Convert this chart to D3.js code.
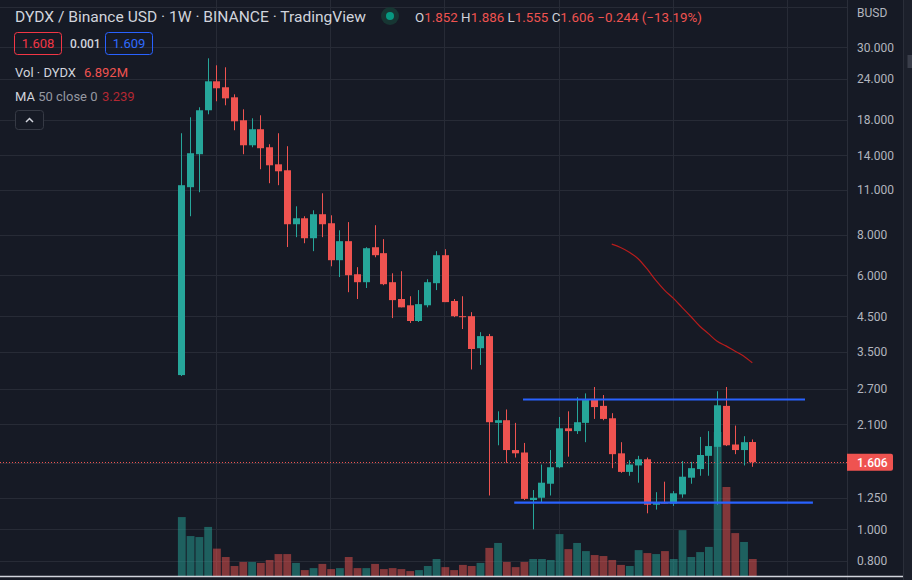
<!DOCTYPE html>
<html>
<head>
<meta charset="utf-8">
<script src="https://cdn.jsdelivr.net/npm/d3@7"></script>
<style>
  html, body { margin: 0; padding: 0; background: #161a25; }
  svg { display: block; }
  text { font-family: Roboto, "Liberation Sans", "DejaVu Sans", sans-serif; }
</style>
</head>
<body>
<svg id="chart" width="912" height="580"></svg>
<script>
// ---------- DATA (weekly DYDX/BUSD) ----------
const opens  = [2.97,11.18,14.11,19.24,23.60,22.63,21.08,17.93,15.03,16.83,14.82,13.14,12.60,8.61,8.98,7.80,9.24,8.67,6.68,7.64,6.05,5.72,7.32,7.02,5.72,5.08,4.86,4.35,4.86,5.68,6.92,5.01,4.50,4.50,3.59,3.91,2.12,2.16,1.75,1.72,1.23,1.25,1.38,1.55,2.04,2.00,2.12,2.51,2.39,2.19,1.71,1.50,1.57,1.64,1.19,1.21,1.20,1.28,1.44,1.53,1.68,1.79,2.39,1.82,1.75,1.852];
const highs  = [16.36,18.31,19.65,27.76,26.42,26.05,21.53,19.37,18.18,18.57,15.14,16.36,14.93,9.77,9.11,9.50,10.71,9.17,8.25,8.74,6.36,7.32,8.55,7.75,6.09,6.18,5.18,5.41,5.84,7.12,7.22,5.08,5.18,4.63,4.02,3.97,2.30,2.33,2.12,1.84,1.32,1.58,1.75,2.21,2.30,2.54,2.61,2.73,2.58,2.27,1.85,1.63,1.68,1.66,1.30,1.40,1.31,1.62,1.61,1.92,2.00,2.65,2.73,2.08,1.93,1.886];
const lows   = [2.95,9.11,10.79,18.70,20.50,19.93,16.71,14.11,14.82,12.69,11.50,11.34,7.33,7.86,7.53,7.12,7.86,6.40,5.93,5.33,5.08,5.49,6.82,5.60,4.44,4.79,4.29,4.32,4.79,5.41,4.97,4.47,4.11,3.09,3.19,1.27,1.81,1.60,1.66,1.23,1.00,1.21,1.27,1.54,1.67,1.96,1.85,2.18,2.16,1.54,1.49,1.46,1.39,1.12,1.15,1.20,1.18,1.25,1.38,1.46,1.46,1.19,1.80,1.70,1.57,1.555];
const closes = [11.34,14.21,19.24,23.60,22.47,20.93,17.80,15.03,16.83,14.72,13.05,12.51,8.61,8.98,7.80,9.24,8.61,6.68,7.64,6.01,5.72,7.27,6.92,5.64,5.04,4.79,4.35,4.90,5.72,6.92,4.97,4.50,4.47,3.57,3.91,2.13,2.16,1.75,1.71,1.24,1.25,1.39,1.55,2.04,2.00,2.13,2.49,2.37,2.18,1.70,1.50,1.58,1.64,1.19,1.21,1.20,1.29,1.45,1.54,1.69,1.80,2.40,1.81,1.75,1.85,1.606];
// volume in millions
const volumes = [23.9,16.2,15.8,19.9,11.1,7.7,4.05,5.7,5.7,5.3,6.5,8.9,8.9,5.3,2.4,3.2,4.9,2.8,3.2,7.7,3.2,3.2,4.9,2.8,3.2,2.8,2.0,2.4,4.05,6.9,3.6,2.4,4.5,4.05,5.3,11.4,13.4,5.7,3.6,5.7,6.9,6.9,6.5,17.0,10.9,13.4,10.1,8.5,8.1,6.5,4.5,4.05,10.5,9.3,8.9,10.1,6.9,18.6,7.7,9.7,11.8,58.4,36.1,17.4,13.8,6.892];
// MA 50 close (starts at bar index 49)
const maStartIndex = 49;
const maValues = [7.48,7.31,7.07,6.75,6.29,5.80,5.41,5.11,4.79,4.49,4.20,3.98,3.77,3.65,3.52,3.40,3.239];
// price axis
const tickLabels = [30,24,18,14,11,8,6,4.5,3.5,2.7,2.1,1.25,1.0,0.8];
const gridPrices = [40,30,24,18,14,11,8,6,4.5,3.5,2.7,2.1,1.6,1.25,1.0,0.8];
const timeGridIndex = [4,17,30,43,56,69];
// drawn horizontal levels: [price, fromIndex, toIndex]
const levelLines = [[2.50, 38.9, 71.0], [1.207, 37.9, 71.9]];
const lastPrice = 1.606;

// ---------- LAYOUT ----------
const W = 912, H = 580;
const plotRight = 847, stripLeft = 903, bottomY = 576;
const UP = "#26a69a", DOWN = "#ef5350";

const svg = d3.select("#chart");
const n = closes.length;
const x = d3.scaleLinear().domain([0, n - 1]).range([181.3, 752.3]);
const y = d3.scaleLog().domain([0.8, 30]).range([561, 47.3]);
const vMax = d3.max(volumes);
const yv = d3.scaleLinear().domain([0, vMax]).range([bottomY, bottomY - 144]);

svg.append("rect").attr("width", W).attr("height", H).attr("fill", "#161a25");

// right narrow strip
svg.append("rect").attr("x", stripLeft).attr("y", 0).attr("width", W - stripLeft).attr("height", H).attr("fill", "#1c202b");
svg.append("line").attr("x1", stripLeft + 0.5).attr("x2", stripLeft + 0.5).attr("y1", 0).attr("y2", H).attr("stroke", "#2a2e39");
svg.append("rect").attr("x", 907.5).attr("y", 55).attr("width", 4.5).attr("height", 13).attr("fill", "#3a3e4a");

svg.append("defs").append("clipPath").attr("id", "plotClip")
  .append("rect").attr("x", 0).attr("y", 0).attr("width", plotRight).attr("height", bottomY);

// grid
const grid = svg.append("g").attr("stroke", "#272b36").attr("stroke-width", 1);
grid.selectAll("line.h").data(gridPrices).join("line").attr("class", "h")
  .attr("x1", 0).attr("x2", plotRight)
  .attr("y1", d => Math.round(y(d)) + 0.5).attr("y2", d => Math.round(y(d)) + 0.5);
grid.selectAll("line.v").data(timeGridIndex).join("line").attr("class", "v")
  .attr("x1", d => Math.floor(x(d)) + 0.5).attr("x2", d => Math.floor(x(d)) + 0.5)
  .attr("y1", 0).attr("y2", bottomY);

const plot = svg.append("g").attr("clip-path", "url(#plotClip)");
const idx = d3.range(n);
const isUp = i => closes[i] >= opens[i];

// volume
plot.append("g").selectAll("rect").data(idx).join("rect")
  .attr("x", i => x(i) - 3.9 + 0.5).attr("width", 7.8)
  .attr("y", i => yv(volumes[i])).attr("height", i => bottomY - yv(volumes[i]))
  .attr("fill", i => isUp(i) ? UP : DOWN).attr("fill-opacity", 0.5);

// last price dotted line
plot.append("line").attr("x1", 0).attr("x2", plotRight)
  .attr("y1", Math.round(y(lastPrice)) + 0.5).attr("y2", Math.round(y(lastPrice)) + 0.5)
  .attr("stroke", DOWN).attr("stroke-width", 1).attr("stroke-dasharray", "1,2");

// candles
const cg = plot.append("g");
cg.selectAll("line").data(idx).join("line")
  .attr("x1", i => Math.round(x(i)) + 0.5).attr("x2", i => Math.round(x(i)) + 0.5)
  .attr("y1", i => y(highs[i])).attr("y2", i => y(lows[i]))
  .attr("stroke", i => isUp(i) ? UP : DOWN).attr("stroke-width", 1);
cg.selectAll("rect").data(idx).join("rect")
  .attr("x", i => Math.round(x(i)) - 3).attr("width", 7)
  .attr("y", i => y(Math.max(opens[i], closes[i])))
  .attr("height", i => Math.max(1, Math.abs(y(opens[i]) - y(closes[i]))))
  .attr("fill", i => isUp(i) ? UP : DOWN);

// MA line
const maPts = maValues.map((v, k) => [maStartIndex + k, v]);
plot.append("path").datum(maPts)
  .attr("d", d3.line().x(d => x(d[0])).y(d => y(d[1])).curve(d3.curveMonotoneX))
  .attr("fill", "none").attr("stroke", "#b71c1c").attr("stroke-width", 1.2);

// level lines
plot.append("g").selectAll("line").data(levelLines).join("line")
  .attr("x1", d => x(d[1])).attr("x2", d => x(d[2]))
  .attr("y1", d => y(d[0])).attr("y2", d => y(d[0]))
  .attr("stroke", "#2962ff").attr("stroke-width", 2.2);

// price axis
svg.append("line").attr("x1", plotRight + 0.5).attr("x2", plotRight + 0.5).attr("y1", 0).attr("y2", H).attr("stroke", "#2a2e39");
const axisG = svg.append("g").attr("transform", `translate(${plotRight},0)`)
  .call(d3.axisRight(y).tickValues(tickLabels).tickFormat(d3.format(".3f")).tickSize(0).tickPadding(10));
axisG.select(".domain").remove();
axisG.selectAll("text").attr("fill", "#b2b5be").attr("font-size", 12).style("font-family", "Roboto, 'Liberation Sans', sans-serif");
svg.append("text").attr("x", 857).attr("y", 17).attr("fill", "#b2b5be").attr("font-size", 12).text("BUSD");

// last price label
const ly = y(lastPrice);
svg.append("path")
  .attr("d", `M${plotRight},${ly - 8.5} H891 a2,2 0 0 1 2,2 V${ly + 6.5} a2,2 0 0 1 -2,2 H${plotRight} Z`)
  .attr("fill", DOWN);
svg.append("text").attr("x", 857).attr("y", ly + 4.3).attr("fill", "#ffffff").attr("font-size", 12).attr("font-weight", 500).text(d3.format(".3f")(lastPrice));

// bottom white separator
svg.append("line").attr("x1", 0).attr("x2", stripLeft).attr("y1", bottomY + 0.5).attr("y2", bottomY + 0.5)
  .attr("stroke", "#d1d4dc").attr("stroke-width", 1.5);

// ---------- HEADER ----------
const hdr = svg.append("g");
hdr.append("text").attr("x", 15).attr("y", 21.5).attr("fill", "#d1d4dc").attr("font-size", 14.5)
  .attr("textLength", 351).attr("lengthAdjust", "spacingAndGlyphs")
  .text("DYDX / Binance USD · 1W · BINANCE · TradingView");
hdr.append("circle").attr("cx", 390).attr("cy", 16).attr("r", 9).attr("fill", "#173633");
hdr.append("circle").attr("cx", 390).attr("cy", 16).attr("r", 4).attr("fill", "#089981");

const last = n - 1;
const ohlc = hdr.append("text").attr("x", 415).attr("y", 21.5).attr("font-size", 12.5)
  .attr("textLength", 287).attr("lengthAdjust", "spacingAndGlyphs");
[["O", opens[last]], ["H", highs[last]], ["L", lows[last]], ["C", closes[last]]].forEach(([k, v], j) => {
  ohlc.append("tspan").attr("fill", "#d1d4dc").text((j ? " " : "") + k);
  ohlc.append("tspan").attr("fill", DOWN).text(d3.format(".3f")(v));
});
ohlc.append("tspan").attr("fill", DOWN).text(" \u22120.244 (\u221213.19%)");

// row 2: bid / spread / ask
hdr.append("rect").attr("x", 14.5).attr("y", 32.5).attr("width", 47).attr("height", 22).attr("rx", 3)
  .attr("fill", "none").attr("stroke", "#f23645");
hdr.append("text").attr("x", 38).attr("y", 48).attr("text-anchor", "middle").attr("fill", "#f23645").attr("font-size", 13).text("1.608");
hdr.append("text").attr("x", 70).attr("y", 48).attr("fill", "#d1d4dc").attr("font-size", 12).attr("font-weight", 500).text("0.001");
hdr.append("rect").attr("x", 105.5).attr("y", 32.5).attr("width", 47).attr("height", 22).attr("rx", 3)
  .attr("fill", "none").attr("stroke", "#2962ff");
hdr.append("text").attr("x", 129).attr("y", 48).attr("text-anchor", "middle").attr("fill", "#2f6bff").attr("font-size", 13).text("1.609");

// row 3: volume legend
hdr.append("text").attr("x", 15).attr("y", 77).attr("font-size", 13).attr("fill", "#d1d4dc").text("Vol · DYDX");
hdr.append("text").attr("x", 84).attr("y", 77).attr("font-size", 13).attr("fill", DOWN).text("6.892M");

// row 4: MA legend
const mt = hdr.append("text").attr("x", 15).attr("y", 101).attr("font-size", 13);
mt.append("tspan").attr("fill", "#d1d4dc").text("MA");
mt.append("tspan").attr("fill", "#9598a1").text(" 50 close 0");
hdr.append("text").attr("x", 102).attr("y", 101).attr("font-size", 13).attr("fill", "#b22833").text(d3.format(".3f")(maValues[maValues.length - 1]));

// collapse button
hdr.append("rect").attr("x", 15.5).attr("y", 110.5).attr("width", 28).attr("height", 19).attr("rx", 3)
  .attr("fill", "#161a25").attr("stroke", "#363a45");
hdr.append("path").attr("d", "M26,122 L29.5,118.5 L33,122").attr("fill", "none")
  .attr("stroke", "#d1d4dc").attr("stroke-width", 1.5);
</script>
</body>
</html>
